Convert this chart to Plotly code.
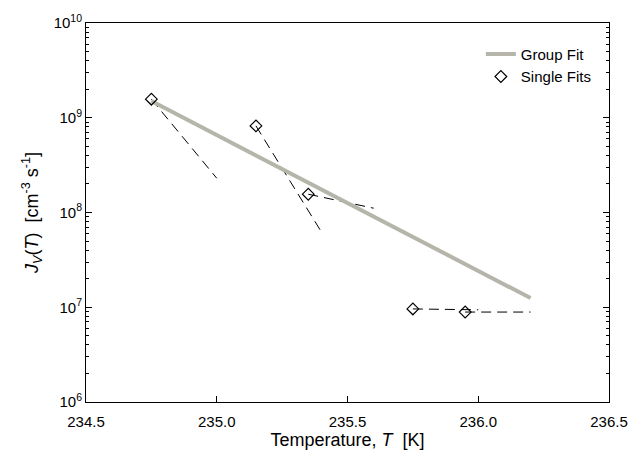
import plotly.graph_objects as go

# Data
single_T = [234.75, 235.15, 235.35, 235.75, 235.95]
single_J = [1.57e9, 8.2e8, 1.56e8, 9.6e6, 8.9e6]

group_T = [234.75, 236.2]
group_J = [1.5e9, 1.25e7]

# single-fit dashed segments: start (T,J) -> end (T,J)
seg_T0 = [234.75, 235.15, 235.35, 235.75, 235.95]
seg_J0 = [1.57e9, 8.2e8, 1.56e8, 9.6e6, 8.9e6]
seg_T1 = [235.0, 235.40, 235.60, 236.0, 236.2]
seg_J1 = [2.3e8, 6.25e7, 1.11e8, 9.4e6, 8.9e6]

y_major = [1e6, 1e7, 1e8, 1e9, 1e10]
y_major_text = ["10<sup>6</sup>", "10<sup>7</sup>", "10<sup>8</sup>", "10<sup>9</sup>", "10<sup>10</sup>"]
x_ticks = [234.5, 235.0, 235.5, 236.0, 236.5]
x_tick_text = ["234.5", "235.0", "235.5", "236.0", "236.5"]

font = "Liberation Sans, Arial, sans-serif"

fig = go.Figure()

for i in range(len(seg_T0)):
    fig.add_trace(go.Scatter(
        x=[seg_T0[i], seg_T1[i]], y=[seg_J0[i], seg_J1[i]],
        mode="lines", line=dict(color="black", width=1, dash="10px,6px"),
        showlegend=False, hoverinfo="skip"))

fig.add_trace(go.Scatter(
    x=group_T, y=group_J, mode="lines", name="Group Fit",
    line=dict(color="#b5b5a9", width=4)))

fig.add_trace(go.Scatter(
    x=single_T, y=single_J, mode="markers", name="Single Fits",
    marker=dict(symbol="diamond-open", size=9, color="black",
                line=dict(width=1.2, color="black"))))

minor_vals = [m * 10 ** e for e in range(6, 10) for m in range(2, 10)]

fig.update_layout(
    width=640, height=459,
    margin=dict(l=86, r=19, t=19, b=57),
    plot_bgcolor="white", paper_bgcolor="white",
    font=dict(family=font, size=15, color="black"),
    legend=dict(x=0.755, y=0.961, xanchor="left", yanchor="top",
                bgcolor="rgba(0,0,0,0)", font=dict(size=15),
                tracegroupgap=0),
    xaxis=dict(
        range=[234.5, 236.5], tickvals=x_ticks, ticktext=x_tick_text,
        ticks="inside", ticklen=6, tickcolor="black",
        showline=True, linecolor="black", linewidth=1, mirror=True,
        showgrid=False, zeroline=False, ticklabelstandoff=6,
        tickfont=dict(size=15),
        title=dict(text="Temperature, <i>T</i>  [K]", font=dict(size=18), standoff=2),
    ),
    yaxis=dict(
        type="log", range=[6, 10], tickvals=y_major, ticktext=y_major_text,
        ticks="inside", ticklen=6, tickcolor="black",
        showline=True, linecolor="black", linewidth=1, mirror="ticks",
        showgrid=False, zeroline=False,
        tickfont=dict(size=15),
        minor=dict(tickvals=minor_vals, ticks="inside", ticklen=3, tickcolor="black", showgrid=False),
        title=dict(text="<i>J<sub>V</sub></i>(<i>T</i>)  [cm<sup>-3</sup> s<sup>-1</sup>]",
                   font=dict(size=18), standoff=10),
    ),
)

fig.write_html("out.html")
